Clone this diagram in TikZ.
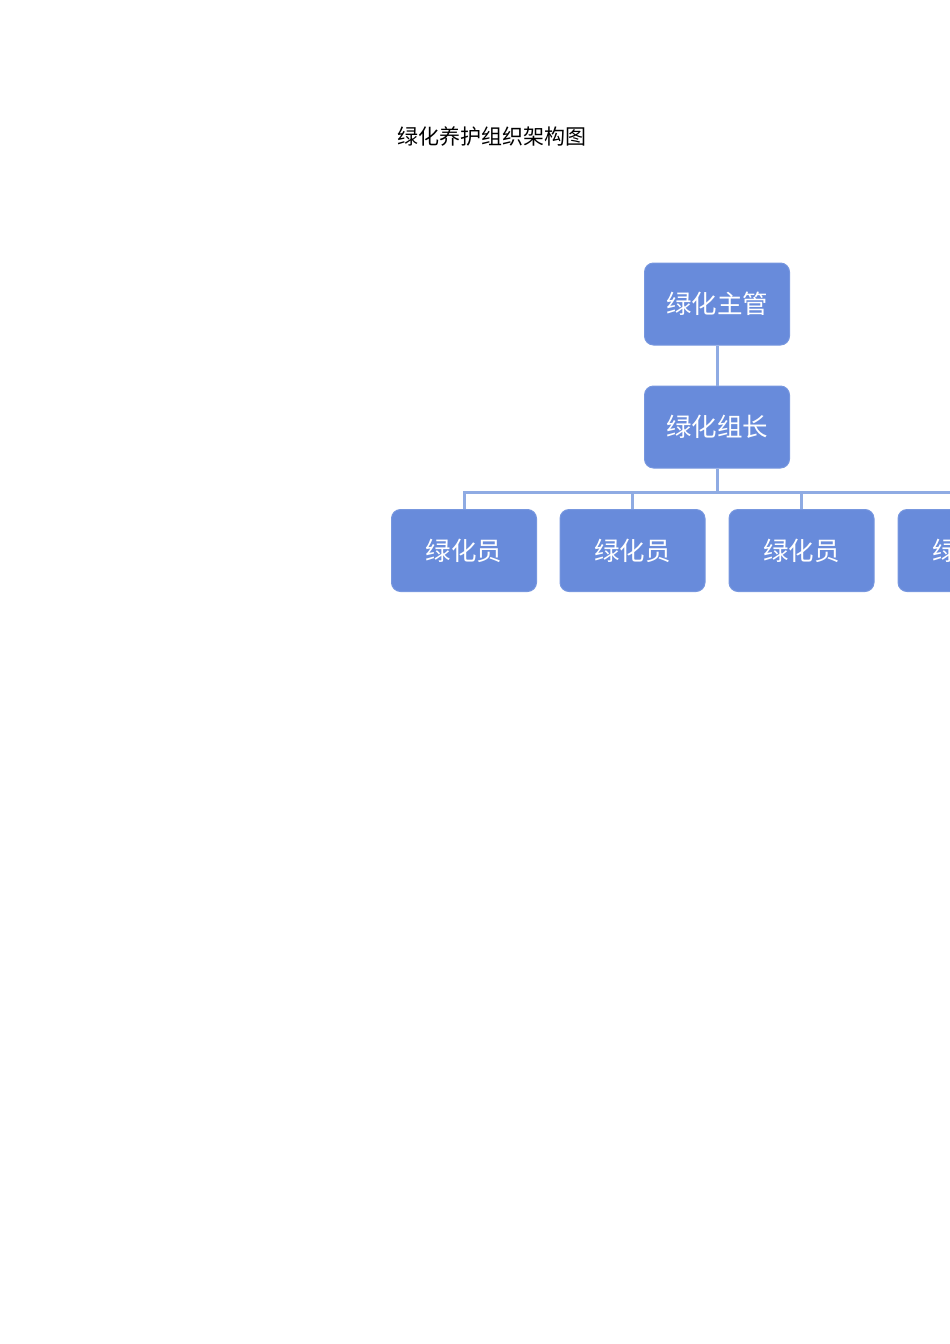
\documentclass[tikz,border=0pt]{standalone}
\usepackage{fontspec}
\setmainfont{Noto Sans CJK SC}
\usetikzlibrary{positioning}
\definecolor{boxblue}{RGB}{104,139,219}
\definecolor{lineblue}{RGB}{143,171,227}
\tikzset{
	rolebox/.style={draw=boxblue!90!white, line width=1pt, fill=boxblue, rounded corners=9pt,
		minimum width=145pt, minimum height=82pt, text=white, font=\fontsize{25.5pt}{30pt}\selectfont, inner sep=0pt},
	link/.style={lineblue, line width=3pt}
}
\begin{document}
\begin{tikzpicture}[x=1pt, y=-1pt]
			%%%%% START %%%%%
			\useasboundingbox (0, 0) rectangle (950, 1344);
			\clip (0, 0) rectangle (950, 1344);
			
			\node (title) at (492, 136) {\fontsize{21pt}{25pt}\selectfont 绿化养护组织架构图};
			
			\node[rolebox] (head) at (717, 304) {绿化主管};
			\node[rolebox] (lead) at (717, 427) {绿化组长};
			
			\node[rolebox] (w1) at (464, 550.5) {绿化员};
			\node[rolebox] (w2) at (632.5, 550.5) {绿化员};
			\node[rolebox] (w3) at (801.5, 550.5) {绿化员};
			\node[rolebox] (w4) at (970.5, 550.5) {绿化员};
			
			\coordinate (bus) at (717, 492);
			
			\draw[link] (head.south) -- (lead.north);
			\draw[link] (lead.south) -- (bus);
			\draw[link] (w1.north) |- (bus);
			\draw[link] (w2.north) |- (bus);
			\draw[link] (w3.north) |- (bus);
			\draw[link] (w4.north) |- (bus);
			
			%%%%% END %%%%%
\end{tikzpicture}
\end{document}
